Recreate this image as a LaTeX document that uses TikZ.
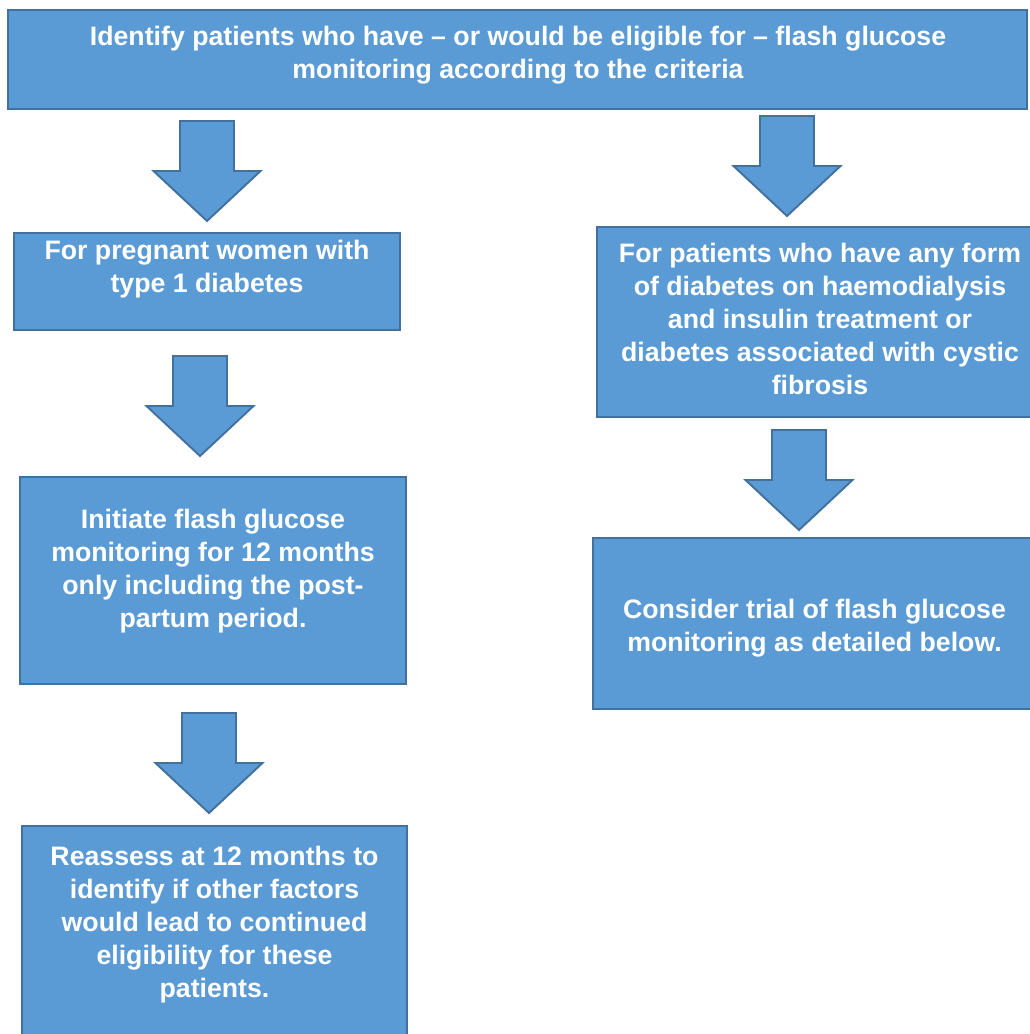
\documentclass[tikz,border=0pt]{standalone}
\usepackage{fontspec}
\setmainfont{Liberation Sans}
\definecolor{boxblue}{HTML}{5B9BD5}
\definecolor{edgeblue}{HTML}{41719C}
\tikzset{
  box/.style={draw=edgeblue,fill=boxblue,line width=1.1pt},
  txt/.style={text=white,font=\bfseries\fontsize{15.2}{18.8}\selectfont,align=center,inner sep=0pt},
  downarrow/.pic={\draw[box,line join=miter] (-27,0)--(27,0)--(27,50)--(53.5,50)--(0,100)--(-53.5,50)--(-27,50)--cycle;}
}

\begin{document}
\begin{tikzpicture}[x=0.02cm,y=-0.02cm]
  \useasboundingbox (0,0) rectangle (1030,1034);
  \clip (0,0) rectangle (1030,1034);
  % boxes
  \draw[box] (8,10) rectangle (1027,109);
  \draw[box] (14,233) rectangle (400,330);
  \draw[box] (20,477) rectangle (406,684);
  \draw[box] (22,826) rectangle (407,1050);
  \draw[box] (597,227) rectangle (1045,417);
  \draw[box] (593,538) rectangle (1045,709);
  % block arrows
  \pic at (207,121) {downarrow};
  \pic at (200,356) {downarrow};
  \pic at (209,713) {downarrow};
  \pic at (787,116) {downarrow};
  \pic at (799,430) {downarrow};
  % texts
  \node[txt] (ident) at (518,55) {Identify patients who have -- or would be eligible for -- flash glucose\\monitoring according to the criteria};
  \node[txt] (preg) at (207,269) {For pregnant women with\\type 1 diabetes};
  \node[txt] (init) at (213,571) {Initiate flash glucose\\monitoring for 12 months\\only including the post-\\partum period.};
  \node[txt] (reass) at (214.5,925) {Reassess at 12 months to\\identify if other factors\\would lead to continued\\eligibility for these\\patients.};
  \node[txt] (dial) at (820,319) {For patients who have any form\\of diabetes on haemodialysis\\and insulin treatment or\\diabetes associated with cystic\\fibrosis};
  \node[txt] (trial) at (814.5,628.5) {Consider trial of flash glucose\\monitoring as detailed below.};
\end{tikzpicture}
\end{document}
